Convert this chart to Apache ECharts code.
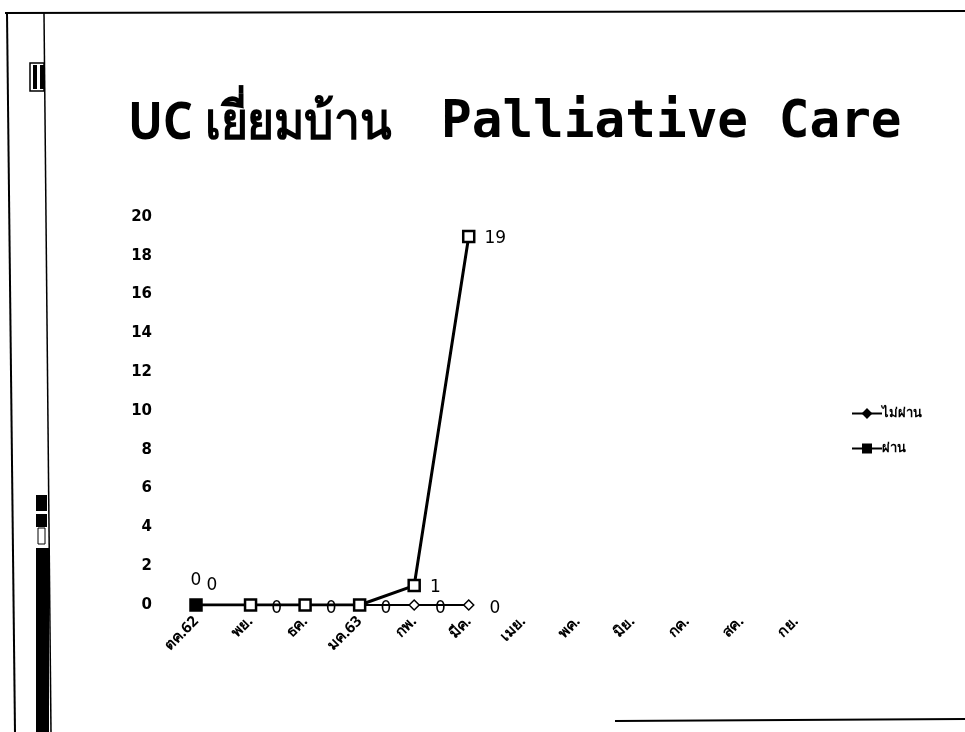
<!DOCTYPE html>
<html><head><meta charset="utf-8">
<script src="https://cdn.jsdelivr.net/npm/echarts@6/dist/echarts.min.js"></script>
<style>html,body{margin:0;padding:0;background:#fff}#c{width:965px;height:732px}</style>
</head><body><div id="c"></div>
<script>
const categories = ['ตค.62','พย.','ธค.','มค.63','กพ.','มีค.','เมย.','พค.','มิย.','กค.','สค.','กย.'];
const notPassed = [0,0,0,0,0,0];
const passed = [0,0,0,0,1,19];
const passedLabelShown = [true,false,false,false,true,true];
const yMin = 0, yMax = 20, yStep = 2;

const chart = echarts.init(document.getElementById('c'));
const passedData = passed.map((v,i)=>({value:v,
  itemStyle:i===0?{color:'#000'}:undefined,
  label:{show:passedLabelShown[i],position:i===0?'top':'right',offset:i===0?[0,-4]:[4,2]}}));
const notPassedData = notPassed.map((v,i)=>({value:v,label:i===0?{position:'top',offset:[16,0]}:{}}));
chart.setOption({
  backgroundColor:'#fff',
  animation:false,
  title:[
    {text:'Palliative Care', left:436, top:93,
     textStyle:{fontFamily:'DejaVu Sans Mono',fontWeight:'bold',fontSize:51,color:'#000'}}
  ],
  legend:{
    orient:'vertical', left:846, top:402, itemGap:22, itemWidth:30, itemHeight:10,
    textStyle:{fontFamily:'Noto Sans',fontWeight:'bold',fontSize:13,color:'#000',padding:[0,0,0,-5]},
    data:[
      {name:'ไม่ผ่าน',itemStyle:{color:'#000',borderColor:'#000'}},
      {name:'ผ่าน',itemStyle:{color:'#000',borderColor:'#000'}}
    ]
  },
  grid:{left:196,right:169,top:217,bottom:127},
  xAxis:{
    type:'category', data:categories, boundaryGap:false,
    axisLine:{show:false}, axisTick:{show:false},
    axisLabel:{rotate:45, margin:14, fontFamily:'Noto Sans', fontSize:15, color:'#000', fontWeight:'bold', interval:0}
  },
  yAxis:{
    type:'value', min:yMin, max:yMax, interval:yStep,
    axisLine:{show:false}, axisTick:{show:false}, splitLine:{show:false},
    axisLabel:{margin:44, fontFamily:'DejaVu Sans', fontSize:15, color:'#000', fontWeight:'bold'}
  },
  series:[
    {name:'ไม่ผ่าน', type:'line', data:notPassedData, symbol:'diamond', symbolSize:10,
     lineStyle:{color:'#000',width:2}, itemStyle:{color:'#fff',borderColor:'#000',borderWidth:1.5},
     label:{show:true,position:'right',offset:[10,4],fontFamily:'DejaVu Sans',fontSize:17,color:'#000'}, z:2},
    {name:'ผ่าน', type:'line', data:passedData, symbol:'rect', symbolSize:11,
     lineStyle:{color:'#000',width:3}, itemStyle:{color:'#fff',borderColor:'#000',borderWidth:2.5},
     label:{fontFamily:'DejaVu Sans',fontSize:17,color:'#000'}, z:3}
  ],
  graphic:[
    {type:'text',left:128,top:98,scaleX:0.89,
     style:{text:'UC เยี่ยมบ้าน',font:'bold 52px "Noto Sans"',fill:'#000'}},
    {type:'line',shape:{x1:5,y1:13,x2:965,y2:11},style:{stroke:'#000',lineWidth:2}},
    {type:'line',shape:{x1:7,y1:13,x2:15,y2:732},style:{stroke:'#000',lineWidth:2}},
    {type:'line',shape:{x1:44,y1:13,x2:51,y2:732},style:{stroke:'#000',lineWidth:1.5}},
    {type:'line',shape:{x1:615,y1:721,x2:965,y2:719},style:{stroke:'#000',lineWidth:2}},
    {type:'rect',shape:{x:30,y:63,width:14,height:28},style:{fill:'#fff',stroke:'#000',lineWidth:1.5}},
    {type:'rect',shape:{x:33,y:65,width:4,height:24},style:{fill:'#000'}},
    {type:'rect',shape:{x:40,y:65,width:4,height:24},style:{fill:'#000'}},
    {type:'rect',shape:{x:36,y:495,width:11,height:16},style:{fill:'#000'}},
    {type:'rect',shape:{x:36,y:514,width:11,height:13},style:{fill:'#000'}},
    {type:'rect',shape:{x:38,y:528,width:7,height:16},style:{fill:'#fff',stroke:'#000',lineWidth:1}},
    {type:'rect',shape:{x:36,y:548,width:13,height:184},style:{fill:'#000'}}
  ]
});
</script></body></html>
